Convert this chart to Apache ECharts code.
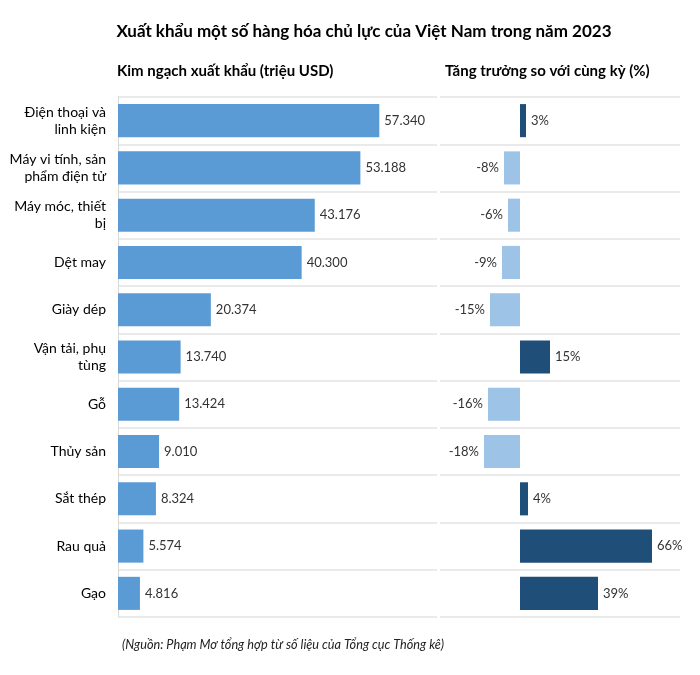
<!DOCTYPE html>
<html><head><meta charset="utf-8">
<script src="https://cdn.jsdelivr.net/npm/echarts@6/dist/echarts.min.js"></script>
<style>html,body{margin:0;padding:0;background:#fff}#c{width:700px;height:675px}</style>
</head><body><div id="c"></div>
<script>
const categories = ["Điện thoại và\nlinh kiện","Máy vi tính, sản\nphẩm điện tử","Máy móc, thiết\nbị","Dệt may","Giày dép","Vận tải, phụ\ntùng","Gỗ","Thủy sản","Sắt thép","Rau quả","Gạo"];
const exportValues = [57340,53188,43176,40300,20374,13740,13424,9010,8324,5574,4816];
const growthValues = [3,-8,-6,-9,-15,15,-16,-18,4,66,39];

const FONT = "Lato, 'Liberation Sans', sans-serif";
const fmt = v => String(v).replace(/\B(?=(\d{3})+(?!\d))/g, ".");

const chart = echarts.init(document.getElementById('c'), null, {renderer:'canvas'});
chart.setOption({
  backgroundColor:'#fff',
  animation:false,
  textStyle:{fontFamily:FONT},
  title:[
    {text:"Xuất khẩu một số hàng hóa chủ lực của Việt Nam trong năm 2023", left:364, top:23, textAlign:'center', padding:0,
     textStyle:{fontSize:17, fontWeight:'bold', color:'#000', fontFamily:FONT}},
    {text:"Kim ngạch xuất khẩu (triệu USD)", left:117, top:64, padding:0, textStyle:{fontSize:15, fontWeight:'bold', color:'#000', fontFamily:FONT}},
    {text:"Tăng trưởng so với cùng kỳ (%)", left:445, top:64, padding:0, textStyle:{fontSize:15, fontWeight:'bold', color:'#000', fontFamily:FONT}},
    {text:"(Nguồn: Phạm Mơ tổng hợp từ số liệu của Tổng cục Thống kê)", left:122, top:638, padding:0,
     textStyle:{fontSize:12.7, fontStyle:'italic', fontWeight:'normal', color:'#222', fontFamily:"'Liberation Sans Narrow', " + FONT}}
  ],
  grid:[
    {left:118, right:263, top:97, bottom:58},
    {left:440, right:20, top:97, bottom:58}
  ],
  xAxis:[
    {gridIndex:0, type:'value', min:0, max:70000, show:false},
    {gridIndex:1, type:'value', min:-40, max:80, show:false}
  ],
  yAxis:[
    {gridIndex:0, type:'category', data:categories, inverse:true,
     axisLine:{show:true, lineStyle:{color:'#d9d9d9'}}, axisTick:{show:false},
     axisLabel:{margin:12, fontSize:14, color:'#000', lineHeight:17, fontFamily:FONT},
     splitLine:{show:true, lineStyle:{color:'#e3e3e3', width:1.5}}},
    {gridIndex:1, type:'category', data:categories, inverse:true,
     axisLine:{show:false}, axisTick:{show:false}, axisLabel:{show:false},
     splitLine:{show:true, lineStyle:{color:'#e3e3e3', width:1.5}}}
  ],
  series:[
    {type:'bar', xAxisIndex:0, yAxisIndex:0, data:exportValues, barCategoryGap:'30%',
     itemStyle:{color:'#5B9BD5'},
     label:{show:true, position:'right', distance:5, fontSize:13, color:'#333', fontFamily:FONT,
            formatter:p=>fmt(p.value)}},
    {type:'bar', xAxisIndex:1, yAxisIndex:1, barCategoryGap:'30%',
     data:growthValues.map(v=>({value:v,
       itemStyle:{color: v>=0 ? '#1F4E79' : '#9DC3E6'},
       label:{position: v>=0 ? 'right' : 'left'}})),
     label:{show:true, distance:5, fontSize:13, color:'#333', fontFamily:FONT, formatter:p=>p.value+'%'}}
  ]
});
</script></body></html>
